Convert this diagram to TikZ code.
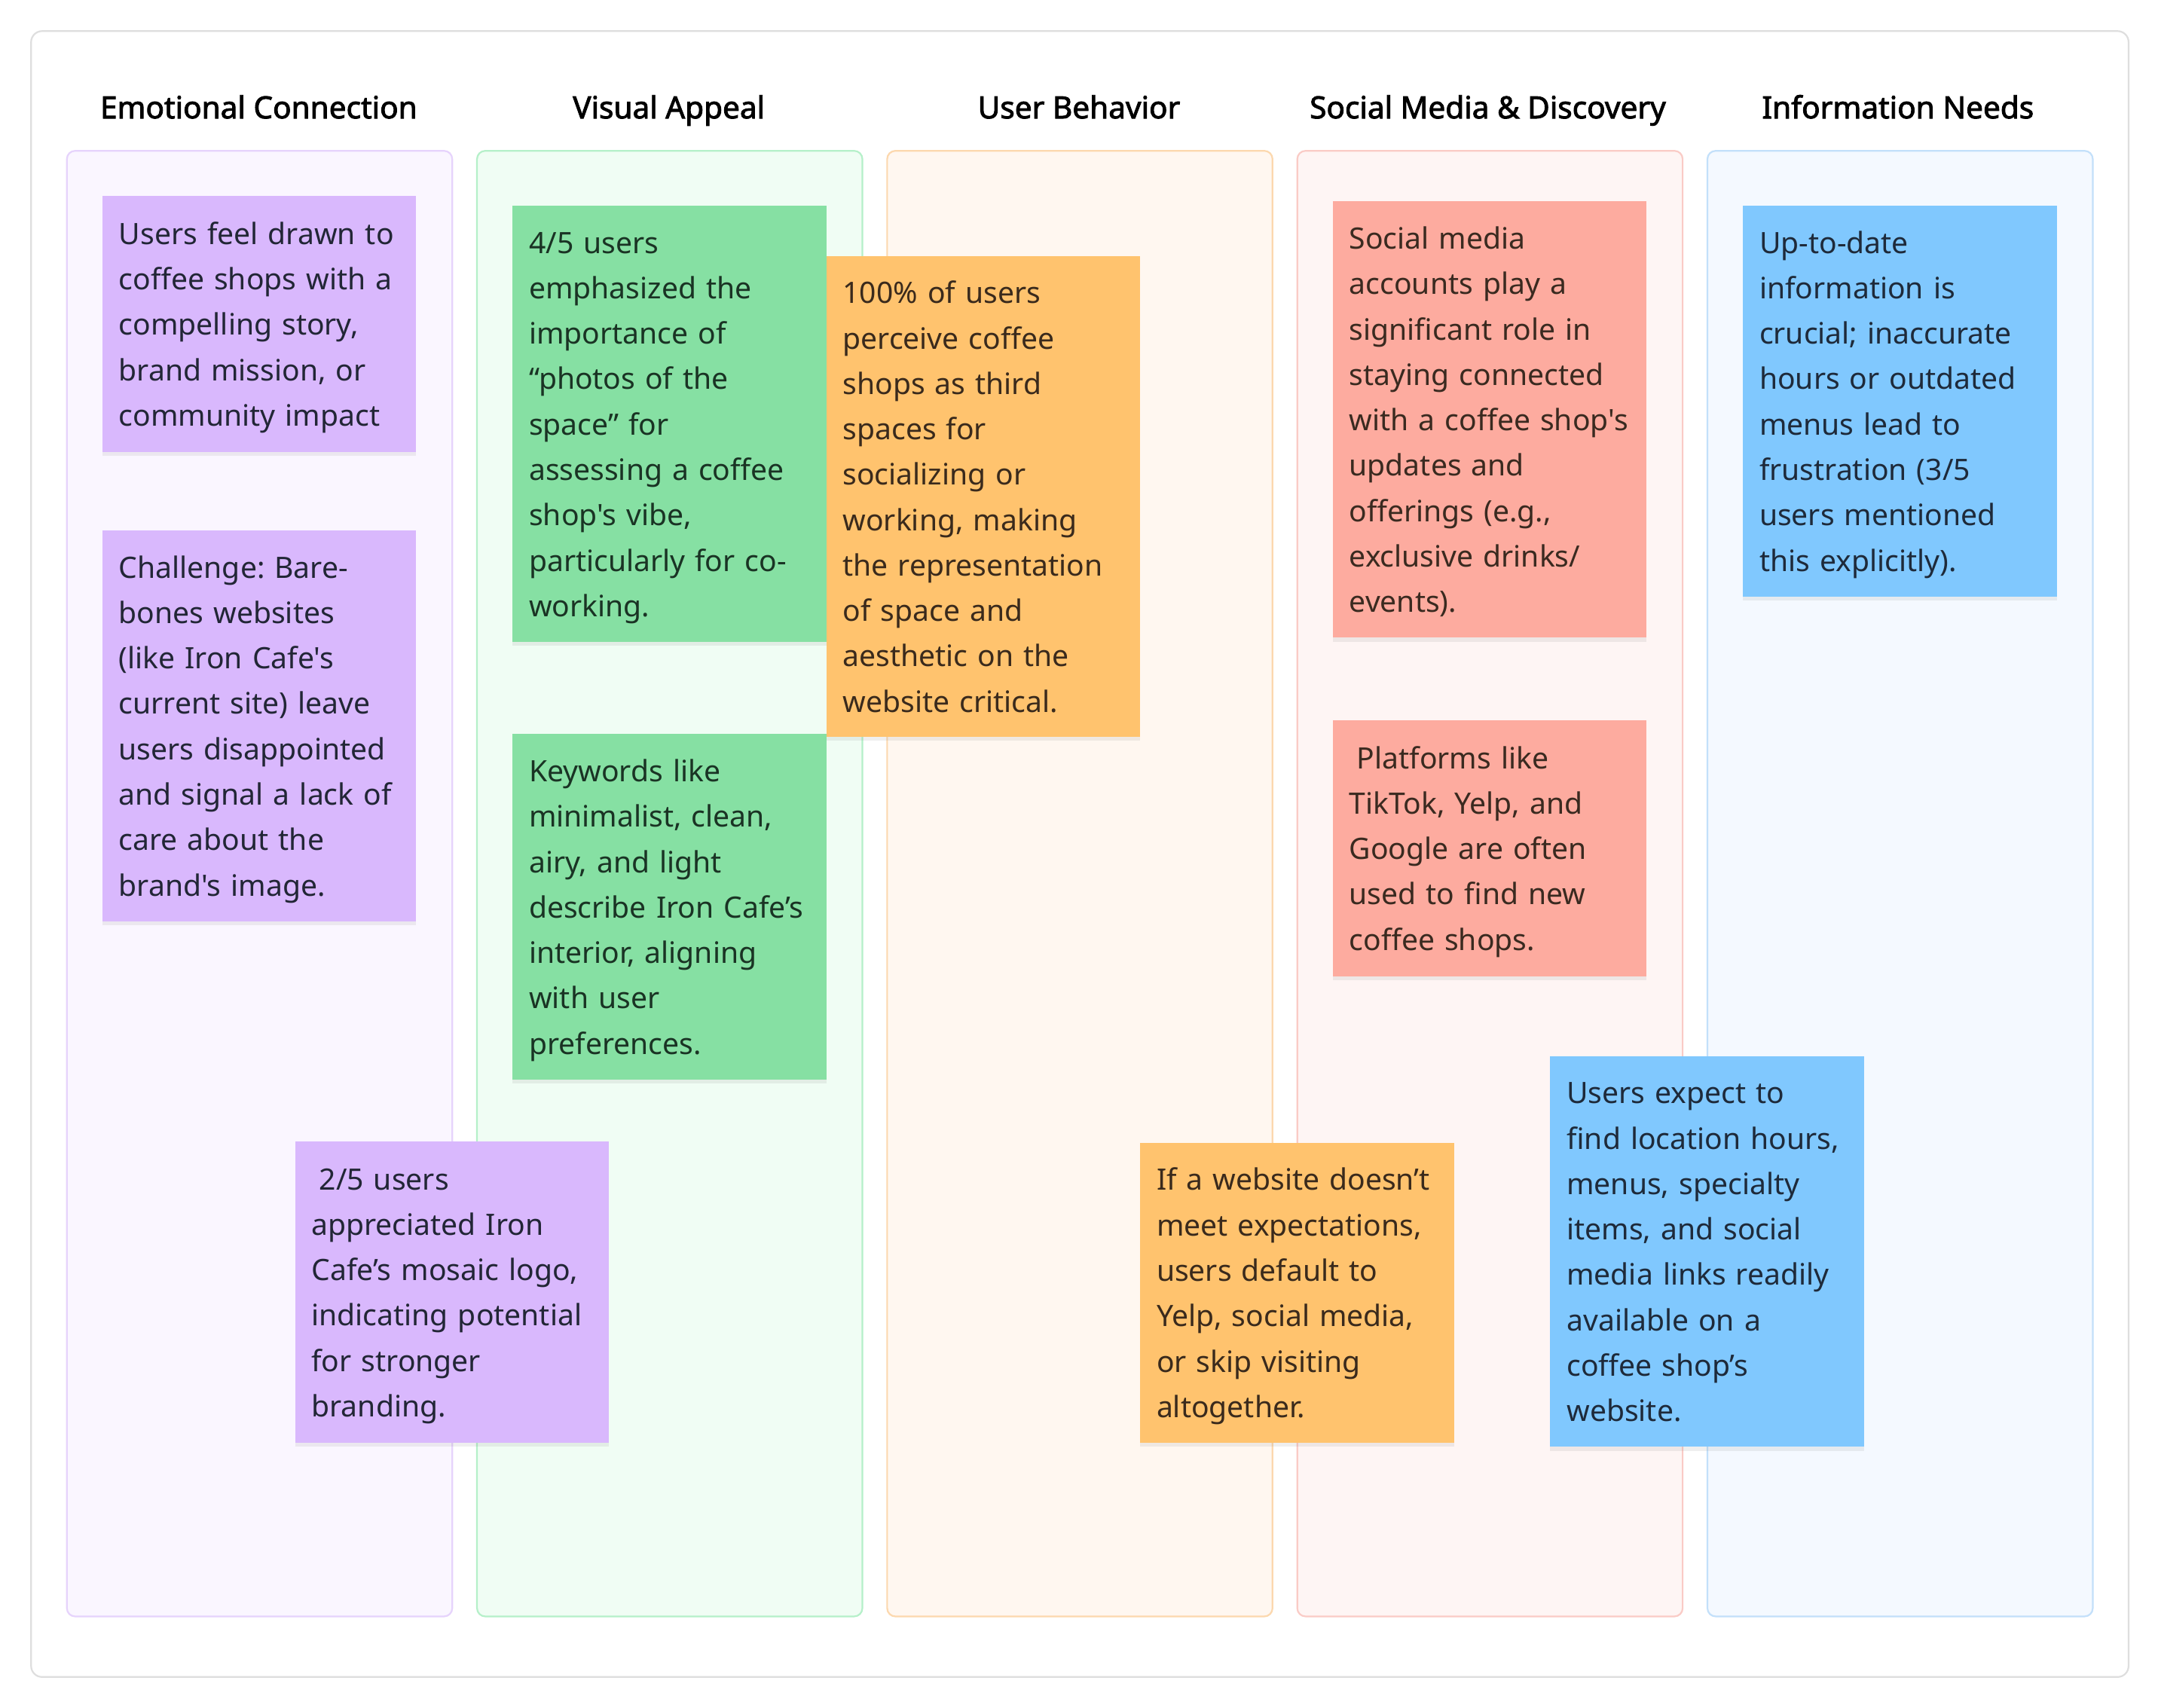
\documentclass[tikz,border=0pt]{standalone}
\usepackage{fontspec}
\setmainfont{Noto Sans}[Ligatures=TeXOff]
\newfontfamily\hdrfont{Noto Sans}[Ligatures=TeXOff, FakeBold=2.2]
\usetikzlibrary{shadows}
\definecolor{framedraw}{HTML}{DEDEDE}
\definecolor{c1fill}{HTML}{FAF6FF}\definecolor{c1draw}{HTML}{E6D3FC}
\definecolor{c2fill}{HTML}{F0FDF4}\definecolor{c2draw}{HTML}{B5F0C9}
\definecolor{c3fill}{HTML}{FFF7F0}\definecolor{c3draw}{HTML}{FCD8AE}
\definecolor{c4fill}{HTML}{FEF5F4}\definecolor{c4draw}{HTML}{FACBC6}
\definecolor{c5fill}{HTML}{F4F9FF}\definecolor{c5draw}{HTML}{C3E0FA}
\definecolor{spurple}{HTML}{D9B8FD}\definecolor{tpurple}{HTML}{222636}
\definecolor{sgreen}{HTML}{86E0A3}\definecolor{tgreen}{HTML}{1A3324}
\definecolor{sorange}{HTML}{FFC36E}\definecolor{torange}{HTML}{3A2A1C}
\definecolor{sred}{HTML}{FDAB9F}\definecolor{tred}{HTML}{3A2A20}
\definecolor{sblue}{HTML}{80C8FE}\definecolor{tblue}{HTML}{1E2A3A}
\newcommand\BS{\rule{0pt}{12.3pt}}
\newcommand\ES{\rule[-4.2pt]{0pt}{4.2pt}}
\begin{document}
\begin{tikzpicture}[x=0.5pt,y=-0.5pt,
  frame/.style={draw=framedraw, line width=0.6pt, fill=white, rounded corners=4pt,
    minimum width=762pt, minimum height=598pt, anchor=north west, inner sep=0pt},
  column/.style={line width=0.6pt, rounded corners=3pt, minimum width=140pt,
    minimum height=532.5pt, anchor=north west, inner sep=0pt},
  hdr/.style={font=\hdrfont\fontsize{11.1}{12}\selectfont, text=black, anchor=base, inner sep=0pt},
  sticky/.style={rectangle, inner xsep=6pt, inner ysep=0pt, text width=102pt,
    align=left, anchor=north west, font=\fontsize{10.7}{16.5}\selectfont\frenchspacing,
    drop shadow={shadow xshift=0pt, shadow yshift=-1.5pt, opacity=0.12}},
  purple/.style={sticky, fill=spurple, text=tpurple},
  green/.style={sticky, fill=sgreen, text=tgreen},
  orange/.style={sticky, fill=sorange, text=torange},
  red/.style={sticky, fill=sred, text=tred},
  blue/.style={sticky, fill=sblue, text=tblue}]
\useasboundingbox (0,0) rectangle (1568,1241);
\fill[white] (0,0) rectangle (1568,1241);
\node[frame] (frame) at (22,22) {};
\node[column, fill=c1fill, draw=c1draw] (c1) at (48,109) {};
\node[column, fill=c2fill, draw=c2draw] (c2) at (346,109) {};
\node[column, fill=c3fill, draw=c3draw] (c3) at (644,109) {};
\node[column, fill=c4fill, draw=c4draw] (c4) at (942,109) {};
\node[column, fill=c5fill, draw=c5draw] (c5) at (1240,109) {};
\node[hdr] (h1) at (188,86) {Emotional Connection};
\node[hdr] (h2) at (486,86) {Visual Appeal};
\node[hdr] (h3) at (784,86) {User Behavior};
\node[hdr] (h4) at (1081,86) {Social Media \& Discovery};
\node[hdr] (h5) at (1379,86) {Information Needs};
% Emotional Connection
\node[purple, minimum height=93pt] (n1) at (74,142) {\BS Users feel drawn to\\coffee shops with a\\compelling story,\\brand mission, or\\community impact\ES};
\node[purple, minimum height=142pt] (n2) at (74,385) {\BS Challenge: Bare-\\bones websites\\(like Iron Cafe's\\current site) leave\\users disappointed\\and signal a lack of\\care about the\\brand's image.\ES};
% Visual Appeal
\node[green, minimum height=158.5pt] (n4) at (372,149) {\BS 4/5 users\\emphasized the\\importance of\\“photos of the\\space” for\\assessing a coffee\\shop's vibe,\\particularly for co-\\working.\ES};
\node[green, minimum height=125.5pt] (n5) at (372,533) {\BS Keywords like\\minimalist, clean,\\airy, and light\\describe Iron Cafe’s\\interior, aligning\\with user\\preferences.\ES};
% User Behavior
\node[orange, minimum height=174.5pt] (n6) at (600,186) {\BS 100\% of users\\perceive coffee\\shops as third\\spaces for\\socializing or\\working, making\\the representation\\of space and\\aesthetic on the\\website critical.\ES};
% Social Media
\node[red, minimum height=158.5pt] (n8) at (968,146) {\BS Social media\\accounts play a\\significant role in\\staying connected\\with a coffee shop's\\updates and\\offerings (e.g.,\\exclusive drinks/\\events).\ES};
\node[red, minimum height=93pt] (n9) at (968,523) {\BS\hspace*{0.26em}Platforms like\\TikTok, Yelp, and\\Google are often\\used to find new\\coffee shops.\ES};
% Information Needs
\node[blue, minimum height=142pt] (n10) at (1266,149) {\BS Up-to-date\\information is\\crucial; inaccurate\\hours or outdated\\menus lead to\\frustration (3/5\\users mentioned\\this explicitly).\ES};
% overlapping notes
\node[purple, minimum height=109.5pt] (n3) at (214,829) {\BS\hspace*{0.26em}2/5 users\\appreciated Iron\\Cafe’s mosaic logo,\\indicating potential\\for stronger\\branding.\ES};
\node[orange, minimum height=109pt] (n7) at (828,830) {\BS If a website doesn’t\\meet expectations,\\users default to\\Yelp, social media,\\or skip visiting\\altogether.\ES};
\node[blue, minimum height=142pt] (n11) at (1126,767) {\BS Users expect to\\find location hours,\\menus, specialty\\items, and social\\media links readily\\available on a\\coffee shop’s\\website.\ES};
\end{tikzpicture}
\end{document}
